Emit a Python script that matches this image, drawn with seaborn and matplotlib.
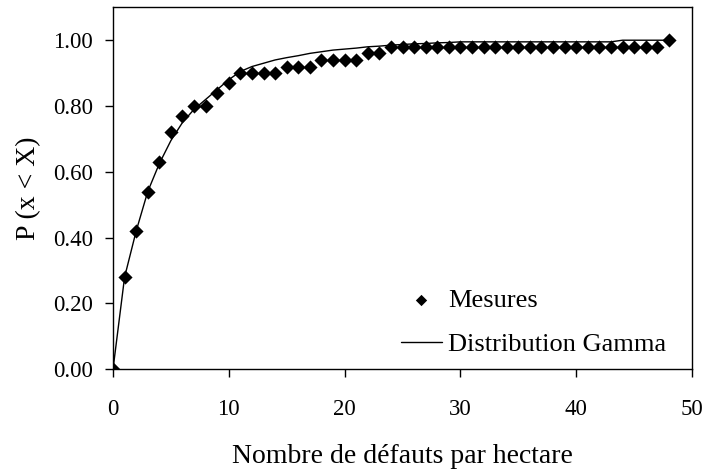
import numpy as np
import pandas as pd
import matplotlib
matplotlib.use("Agg")
import matplotlib.pyplot as plt
import seaborn as sns

# nombre de defauts par hectare
defauts = list(range(49))

# frequences cumulees mesurees
mesures = [0.00, 0.28, 0.42, 0.54, 0.63, 0.72, 0.77, 0.80, 0.80, 0.84,
           0.87, 0.90, 0.90, 0.90, 0.90, 0.92, 0.92, 0.92, 0.94, 0.94,
           0.94, 0.94, 0.96, 0.96, 0.98, 0.98, 0.98, 0.98, 0.98, 0.98,
           0.98, 0.98, 0.98, 0.98, 0.98, 0.98, 0.98, 0.98, 0.98, 0.98,
           0.98, 0.98, 0.98, 0.98, 0.98, 0.98, 0.98, 0.98, 1.00]

# loi gamma ajustee
gamma = [0.00, 0.28, 0.42, 0.54, 0.625, 0.695, 0.75, 0.79, 0.82, 0.85,
         0.88, 0.905, 0.92, 0.93, 0.94, 0.947, 0.953, 0.96, 0.965, 0.97,
         0.973, 0.976, 0.98, 0.982, 0.985, 0.987, 0.989, 0.99, 0.992, 0.993,
         0.995, 0.995, 0.995, 0.995, 0.995, 0.995, 0.995, 0.995, 0.995, 0.995,
         0.995, 0.995, 0.995, 0.995, 1.00, 1.00, 1.00, 1.00, 1.00]

y_ticks = [0.0, 0.2, 0.4, 0.6, 0.8, 1.0]
x_ticks = [0, 10, 20, 30, 40, 50]

df = pd.DataFrame({"x": defauts, "mesures": mesures, "gamma": gamma})

sns.set_style("ticks")
plt.rcParams["font.family"] = ["Liberation Serif", "DejaVu Serif"]
plt.rcParams["text.color"] = "black"
plt.rcParams["axes.labelcolor"] = "black"

fig = plt.figure(figsize=(7.1, 4.72), dpi=100)
ax = fig.add_axes([113 / 710, (472 - 369.3) / 472, 579 / 710, 362 / 472])

sns.lineplot(data=df, x="x", y="gamma", color="black", linewidth=1.0,
             label="Distribution Gamma", ax=ax, zorder=2)
sns.scatterplot(data=df, x="x", y="mesures", marker="D", s=52, color="black",
                edgecolor="black", linewidth=0, label="Mesures", ax=ax, zorder=3)

ax.set_xlim(0, 50)
ax.set_ylim(0, 1.1)
ax.set_xticks(x_ticks)
ax.set_yticks(y_ticks)
ax.set_yticklabels([f"{v:.2f}" for v in y_ticks])
ax.tick_params(direction="out", length=6, width=1, colors="black", labelsize=16.5)
ax.tick_params(axis="x", pad=15.5)
ax.tick_params(axis="y", pad=8.5)
for s in ax.spines.values():
    s.set_color("black")
    s.set_linewidth(1.0)

ax.set_xlabel("Nombre de défauts par hectare", fontsize=20, labelpad=17)
ax.set_ylabel("P (x < X)", fontsize=20, labelpad=8.5)

h, l = ax.get_legend_handles_labels()
ax.legend(h[::-1], l[::-1], loc="upper left", bbox_to_anchor=(0.4974, 0.223),
          frameon=False, fontsize=19, handlelength=1.55, handletextpad=0.25,
          labelspacing=0.77, borderpad=0, borderaxespad=0, markerscale=0.8)

fig.savefig("out.png", dpi=100)
